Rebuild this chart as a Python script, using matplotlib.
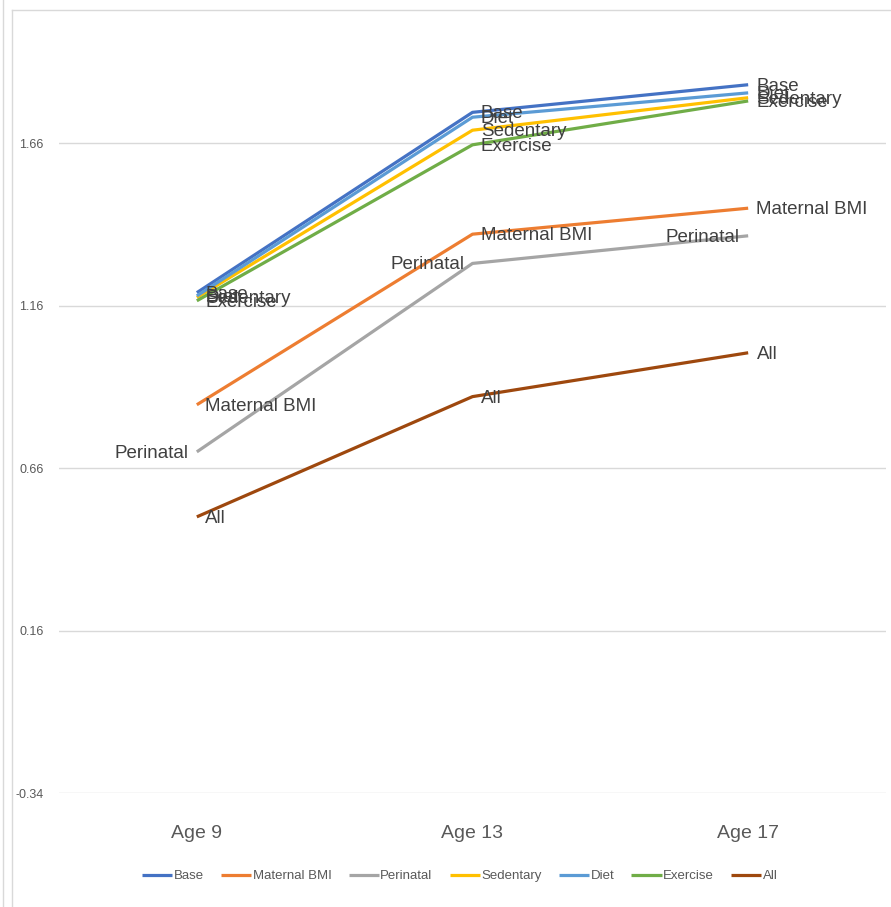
import matplotlib
matplotlib.use("Agg")
import matplotlib.pyplot as plt
from matplotlib.lines import Line2D

plt.rcParams["font.family"] = ["Liberation Sans Narrow", "Liberation Sans", "DejaVu Sans"]

# Categories and series values
ages = ["Age 9", "Age 13", "Age 17"]
series_names = ["Base", "Maternal BMI", "Perinatal", "Sedentary", "Diet", "Exercise", "All"]
base = [1.20, 1.755, 1.84]
maternal_bmi = [0.855, 1.38, 1.46]
perinatal = [0.71, 1.29, 1.375]
sedentary = [1.185, 1.70, 1.80]
diet = [1.19, 1.74, 1.815]
exercise = [1.175, 1.655, 1.79]
all_factors = [0.51, 0.88, 1.015]
y_ticks = [-0.34, 0.16, 0.66, 1.16, 1.66]

colors = {
    "Base": "#4472C4",
    "Maternal BMI": "#ED7D31",
    "Perinatal": "#A5A5A5",
    "Sedentary": "#FFC000",
    "Diet": "#5B9BD5",
    "Exercise": "#70AD47",
    "All": "#9E480E",
}
values = {
    "Base": base,
    "Maternal BMI": maternal_bmi,
    "Perinatal": perinatal,
    "Sedentary": sedentary,
    "Diet": diet,
    "Exercise": exercise,
    "All": all_factors,
}

W, H = 891, 907
fig = plt.figure(figsize=(W / 100, H / 100), dpi=100)
fig.patch.set_facecolor("white")

left, right, top, bottom = 59, 886, 10, 793
ax = fig.add_axes([left / W, 1 - bottom / H, (right - left) / W, (bottom - top) / H])

x = list(range(len(ages)))
for name in series_names:
    ax.plot(x, values[name], color=colors[name], lw=2.3, label=name,
            solid_capstyle="butt", zorder=3)
    # data labels: Perinatal sits left of its points, the rest to the right
    for i, v in enumerate(values[name]):
        if name == "Perinatal":
            ax.annotate(name, (i, v), xytext=(-6, -1), textcoords="offset points",
                        ha="right", va="center", fontsize=13.5, color="#404040", zorder=4)
        else:
            ax.annotate(name, (i, v), xytext=(6, -1), textcoords="offset points",
                        ha="left", va="center", fontsize=13.5, color="#404040", zorder=4)

ax.set_xlim(-0.5, 2.5)
ax.set_ylim(-0.34, 2.07)
ax.set_yticks(y_ticks)
ax.set_yticklabels([f"{t:.2f}" for t in y_ticks])
ax.set_xticks(x)
ax.set_xticklabels(ages)
ax.tick_params(axis="y", length=0, pad=11, labelsize=9, labelcolor="#595959")
ax.tick_params(axis="x", length=0, pad=23, labelsize=14, labelcolor="#595959")
ax.grid(axis="y", color="#D9D9D9", lw=1)
ax.set_axisbelow(True)
for spine in ax.spines.values():
    spine.set_visible(False)

fig.legend(loc="center", bbox_to_anchor=(0.516, 1 - 876 / H), ncol=7, frameon=False,
           fontsize=9.5, handlelength=2.3, handletextpad=0.1, columnspacing=1.3,
           labelcolor="#595959")

# Chart frame remnants
frame = "#D9D9D9"
fig.add_artist(Line2D([3 / W, 3 / W], [0, 1], transform=fig.transFigure, color=frame, lw=1))
fig.add_artist(Line2D([12 / W, 12 / W], [0, 1 - 10 / H], transform=fig.transFigure, color=frame, lw=1))
fig.add_artist(Line2D([12 / W, 1], [1 - 10 / H, 1 - 10 / H], transform=fig.transFigure, color=frame, lw=1))

fig.savefig("out.png", dpi=100)
